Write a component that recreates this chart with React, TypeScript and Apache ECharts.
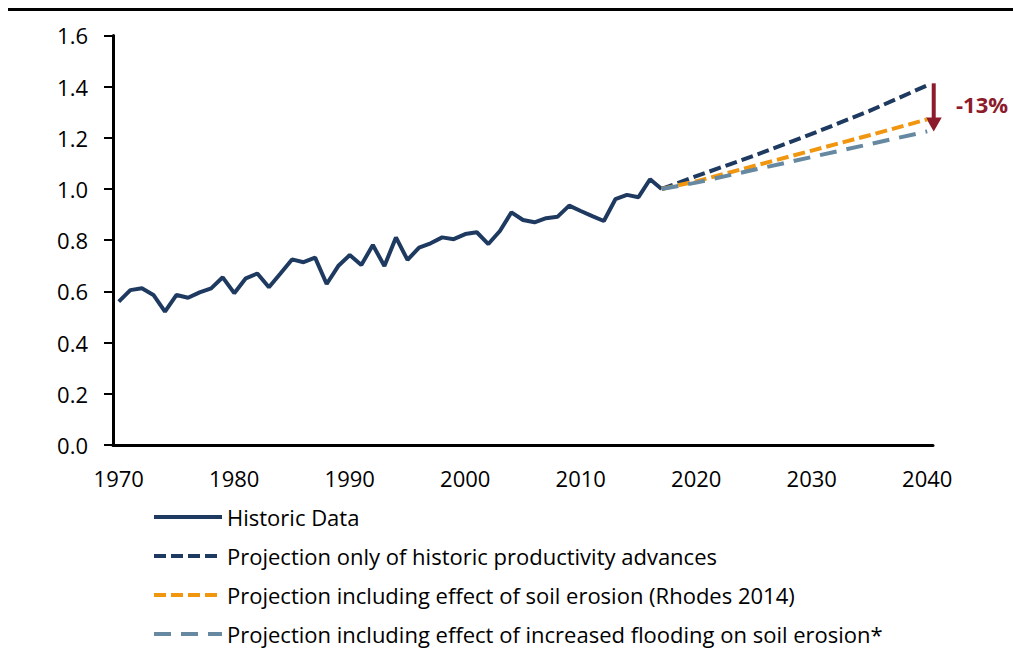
import React, { useEffect, useRef } from "react";
import * as echarts from "echarts";

const years: string[] = Array.from({ length: 71 }, (_, i) => String(1970 + i));

const historic = [
  0.56, 0.605, 0.612, 0.586, 0.521, 0.586, 0.575, 0.596, 0.612, 0.655,
  0.593, 0.651, 0.67, 0.616, 0.67, 0.725, 0.714, 0.732, 0.629, 0.699,
  0.742, 0.703, 0.781, 0.699, 0.811, 0.723, 0.771, 0.788, 0.811, 0.804,
  0.824, 0.831, 0.785, 0.836, 0.909, 0.879, 0.87, 0.886, 0.892, 0.935,
  0.914, 0.894, 0.875, 0.96, 0.977, 0.968, 1.038, 1.0,
];

const projYears = ["2017", "2020", "2025", "2030", "2035", "2040"];
const projOnly = [1.0, 1.05, 1.13, 1.215, 1.305, 1.405];
const projErosion = [1.0, 1.03, 1.09, 1.15, 1.21, 1.272];
const projFlooding = [1.0, 1.025, 1.075, 1.125, 1.175, 1.225];

const seriesNames = [
  "Historic Data",
  "Projection only of historic productivity advances",
  "Projection including effect of soil erosion (Rhodes 2014)",
  "Projection including effect of increased flooding on soil erosion*",
];

const reductionLabel = "-13%";

const FONT = "'Open Sans', 'Noto Sans', sans-serif";
const NAVY = "#1f3a60";
const ORANGE = "#f0960f";
const GREY = "#6689a1";
const RED = "#8c1c2c";

export default function App() {
  const ref = useRef<HTMLDivElement>(null);

  useEffect(() => {
    if (!ref.current) return;
    const chart = echarts.init(ref.current, undefined, { renderer: "svg" });

    const histData = years.map((y, i) => (i < historic.length ? historic[i] : null));
    const pair = (vals: number[]) => projYears.map((y, i) => [y, vals[i]]);

    chart.setOption({
      animation: false,
      backgroundColor: "#ffffff",
      grid: { left: 113, right: 80, top: 35.4, bottom: 205, containLabel: false },
      legend: {
        orient: "vertical",
        left: 152,
        top: 506,
        padding: 0,
        height: 144,
        itemWidth: 68,
        itemHeight: 14,
        itemGap: 17,
        selectedMode: false,
        itemStyle: { opacity: 0, borderWidth: 0 },
        lineStyle: { width: 4 },
        textStyle: { fontFamily: FONT, fontSize: 22, color: "#000" },
        data: seriesNames,
      },
      xAxis: {
        type: "category",
        data: years,
        boundaryGap: true,
        axisLine: { lineStyle: { color: "#000", width: 3 } },
        axisTick: { interval: 9, length: 8, lineStyle: { color: "#000", width: 2 } },
        axisLabel: { interval: 9, margin: 22, fontFamily: FONT, fontSize: 22, color: "#000" },
        splitLine: { show: false },
      },
      yAxis: {
        type: "value",
        min: 0,
        max: 1.6,
        interval: 0.2,
        axisLine: { show: true, lineStyle: { color: "#000", width: 3 } },
        axisTick: { show: true, length: 9, lineStyle: { color: "#000", width: 2 } },
        axisLabel: {
          margin: 25,
          fontFamily: FONT,
          fontSize: 22,
          color: "#000",
          formatter: (v: number) => v.toFixed(1),
        },
        splitLine: { show: false },
      },
      series: [
        {
          name: seriesNames[0],
          type: "line",
          data: histData,
          symbol: "none",
          lineStyle: { color: NAVY, width: 4 },
          itemStyle: { color: NAVY },
        },
        {
          name: seriesNames[1],
          type: "line",
          data: pair(projOnly),
          symbol: "none",
          lineStyle: { color: NAVY, width: 4, type: [12, 5] },
          itemStyle: { color: NAVY },
        },
        {
          name: seriesNames[2],
          type: "line",
          data: pair(projErosion),
          symbol: "none",
          lineStyle: { color: ORANGE, width: 4, type: [12, 5] },
          itemStyle: { color: ORANGE },
        },
        {
          name: seriesNames[3],
          type: "line",
          data: pair(projFlooding),
          symbol: "none",
          lineStyle: { color: GREY, width: 4, type: [17, 10] },
          itemStyle: { color: GREY },
        },
      ],
    });

    const top = chart.convertToPixel({ xAxisIndex: 0, yAxisIndex: 0 }, ["2040", projOnly[projOnly.length - 1]]) as number[];
    const bot = chart.convertToPixel({ xAxisIndex: 0, yAxisIndex: 0 }, ["2040", projFlooding[projFlooding.length - 1]]) as number[];
    const ax = top[0] + 6.5;
    const headLen = 14;

    chart.setOption({
      graphic: [
        { type: "rect", left: 8, top: 8, shape: { x: 0, y: 0, width: 1005, height: 3 }, style: { fill: "#000" } },
        {
          type: "line",
          shape: { x1: ax, y1: top[1] - 2, x2: ax, y2: bot[1] - headLen + 1 },
          style: { stroke: RED, lineWidth: 4 },
        },
        {
          type: "polygon",
          shape: { points: [[ax - 8, bot[1] - headLen], [ax + 8, bot[1] - headLen], [ax, bot[1]]] },
          style: { fill: RED },
        },
        {
          type: "text",
          x: 956,
          y: (top[1] + bot[1]) / 2 - 4,
          style: {
            text: reductionLabel,
            fill: RED,
            font: `bold 22px ${FONT}`,
            textVerticalAlign: "middle",
          },
        },
      ],
    });

    return () => chart.dispose();
  }, []);

  return (
    <div
      ref={ref}
      style={{ position: "absolute", left: 0, top: 0, width: 1013, height: 650 }}
    />
  );
}
